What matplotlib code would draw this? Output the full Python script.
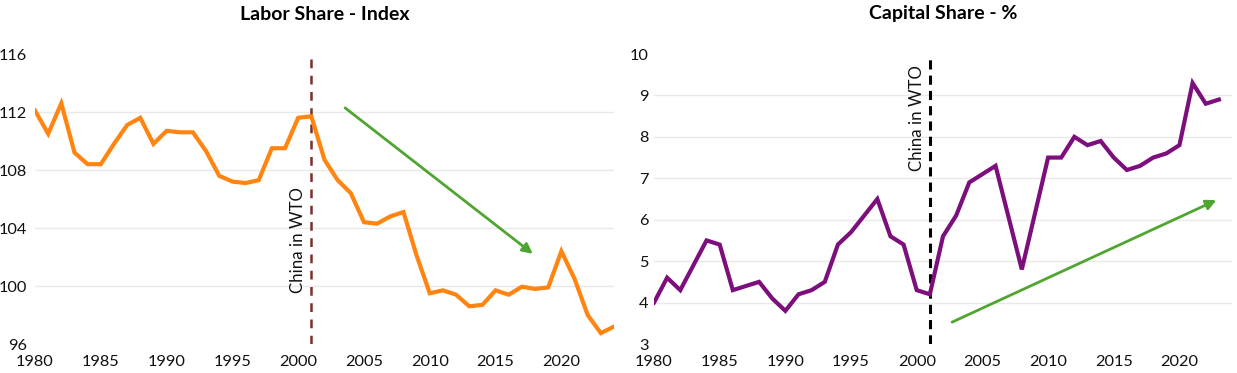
import numpy as np
import matplotlib.pyplot as plt

# data
years_labor = list(range(1980, 2025))
labor_share = [112.1, 110.5, 112.6, 109.2, 108.4, 108.4, 109.8, 111.1, 111.6, 109.8,
               110.7, 110.6, 110.6, 109.3, 107.6, 107.2, 107.1, 107.3, 109.5, 109.5,
               111.6, 111.7, 108.7, 107.3, 106.4, 104.4, 104.3, 104.8, 105.1, 102.1,
               99.5, 99.7, 99.4, 98.6, 98.7, 99.7, 99.4, 99.95, 99.8, 99.9,
               102.4, 100.5, 98.0, 96.75, 97.2]

years_capital = list(range(1980, 2024))
capital_share = [4.0, 4.6, 4.3, 4.9, 5.5, 5.4, 4.3, 4.4, 4.5, 4.1,
                 3.8, 4.2, 4.3, 4.5, 5.4, 5.7, 6.1, 6.5, 5.6, 5.4,
                 4.3, 4.2, 5.6, 6.1, 6.9, 7.1, 7.3, 6.05, 4.8, 6.15,
                 7.5, 7.5, 8.0, 7.8, 7.9, 7.5, 7.2, 7.3, 7.5, 7.6,
                 7.8, 9.3, 8.8, 8.9]

wto_year = 2001
xticks = [1980, 1985, 1990, 1995, 2000, 2005, 2010, 2015, 2020]
labor_yticks = [96, 100, 104, 108, 112, 116]
capital_yticks = [3, 4, 5, 6, 7, 8, 9, 10]

# trend arrows (start, end) in data units
labor_arrow = ((2003.4, 112.4), (2018.0, 102.1))
capital_arrow = ((2002.5, 3.5), (2023.0, 6.5))

plt.rcParams['font.family'] = ['Lato', 'DejaVu Sans']

W, H = 1237, 373
fig = plt.figure(figsize=(W / 100, H / 100), dpi=100)

ax1 = fig.add_axes([35 / W, 29 / H, (614 - 35) / W, (344 - 54) / H])
ax2 = fig.add_axes([654 / W, 29 / H, (1232 - 654) / W, (344 - 54) / H])

orange = '#FF8410'
purple = '#7D0F7D'
green = '#50A531'
grid_c = '#E9E9E9'


def style(ax, yticks, ypad):
    ax.set_xlim(1980, 2024)
    ax.set_ylim(yticks[0], yticks[-1])
    ax.set_xticks(xticks)
    ax.set_yticks(yticks)
    for s in ax.spines.values():
        s.set_visible(False)
    ax.tick_params(length=0, labelsize=11.8, colors='#111111')
    ax.tick_params(axis='x', pad=8)
    ax.tick_params(axis='y', pad=ypad)
    for y in yticks[1:-1]:
        ax.axhline(y, color=grid_c, lw=1, zorder=0)


# labor share
style(ax1, labor_yticks, 6)
ax1.plot(years_labor, labor_share, color=orange, lw=3, solid_joinstyle='miter', zorder=3)
ax1.axvline(wto_year, ymin=0, ymax=0.99, color='#7B2F2F', lw=1.8, ls=(0, (3.5, 3)), zorder=2)
ax1.text(wto_year - 0.4, 103.2, 'China in WTO', rotation=90, ha='right', va='center',
         fontsize=12.2, color='#111111')
ax1.annotate('', xy=labor_arrow[1], xytext=labor_arrow[0],
             arrowprops=dict(arrowstyle='-|>', color=green, lw=2, mutation_scale=15))

# capital share
style(ax2, capital_yticks, 4)
ax2.plot(years_capital, capital_share, color=purple, lw=3, solid_joinstyle='miter', zorder=3)
ax2.axvline(wto_year, color='black', lw=2.2, ls=(0, (3, 2)), zorder=2)
ax2.text(wto_year - 0.4, 8.45, 'China in WTO', rotation=90, ha='right', va='center',
         fontsize=12.2, color='#111111')
ax2.annotate('', xy=capital_arrow[1], xytext=capital_arrow[0],
             arrowprops=dict(arrowstyle='-|>', color=green, lw=2, mutation_scale=15))

fig.text((35 + 614) / 2 / W, 1 - 14 / H, 'Labor Share - Index', ha='center', va='center',
         fontsize=14, fontweight='bold')
fig.text((654 + 1232) / 2 / W, 1 - 14 / H, 'Capital Share - %', ha='center', va='center',
         fontsize=14, fontweight='bold')

fig.savefig('out.png', dpi=100)
